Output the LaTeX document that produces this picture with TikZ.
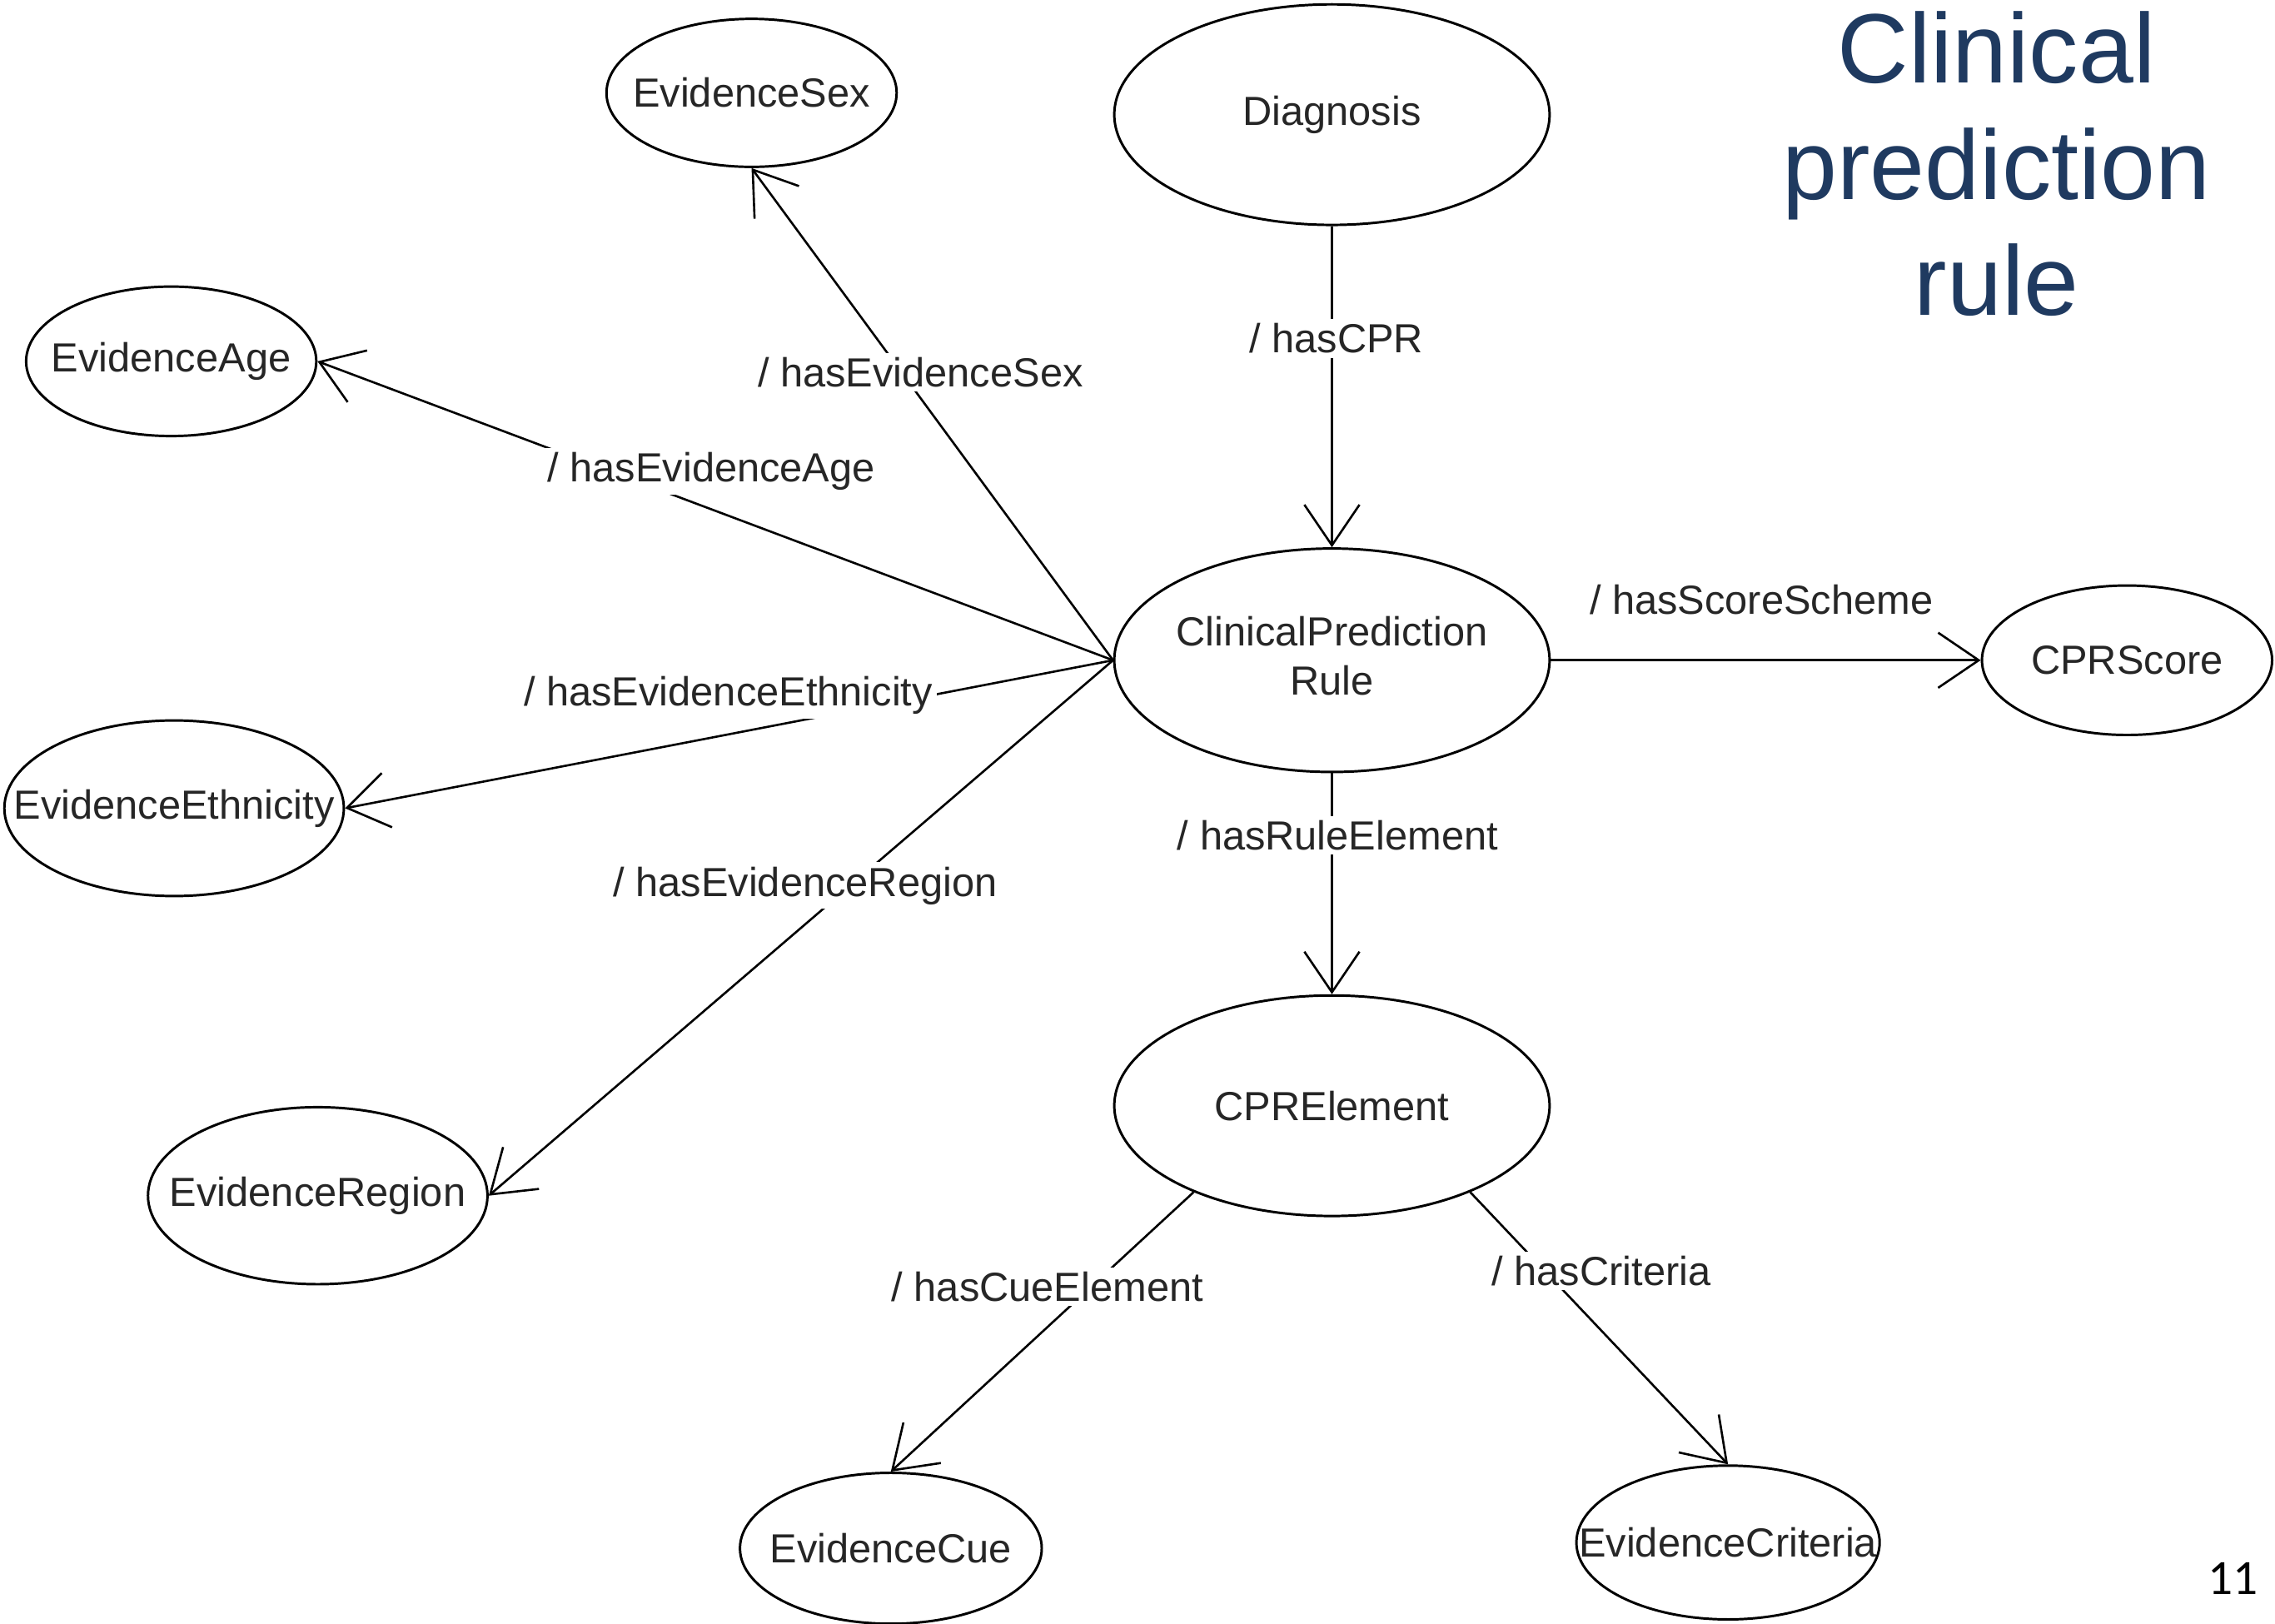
\documentclass[tikz,border=0pt]{standalone}
\usepackage{fontspec}
\setmainfont{Liberation Sans}
\newfontfamily\carlito{Carlito}
\usetikzlibrary{shapes.geometric,arrows.meta}
\definecolor{titleblue}{HTML}{1F3A60}
\definecolor{txtgray}{HTML}{262626}
\newcommand{\nt}[1]{\makebox[0pt][c]{#1}}
\tikzset{
  ell/.style={draw, ellipse, line width=1.7pt, inner sep=0pt, text=txtgray,
    font=\fontsize{28}{34}\selectfont},
  conn/.style={line width=1.5pt, -{Straight Barb[length=28pt,width=38pt,line width=1.5pt]}},
  lbl/.style={fill=white, inner sep=3pt, text=txtgray, font=\fontsize{28}{34}\selectfont},
}
\begin{document}
\begin{tikzpicture}[x=1pt,y=-1pt]
\useasboundingbox (0,0) rectangle (1568,1119);
% nodes
\node[ell, minimum width=200pt, minimum height=102pt] (sex)   at (518,64)   {\nt{EvidenceSex}};
\node[ell, minimum width=300pt, minimum height=152pt] (diag)  at (918,79)   {\nt{Diagnosis}};
\node[ell, minimum width=200pt, minimum height=103pt] (age)   at (118,249)  {\nt{EvidenceAge}};
\node[ell, minimum width=300pt, minimum height=154pt] (cpr)   at (918,455)
  {\nt{\begin{tabular}{@{}c@{}}ClinicalPrediction\\Rule\end{tabular}}};
\node[ell, minimum width=200pt, minimum height=103pt] (score) at (1466,455) {\nt{CPRScore}};
\node[ell, minimum width=234pt, minimum height=121pt] (eth)   at (120,557)  {\nt{EvidenceEthnicity}};
\node[ell, minimum width=234pt, minimum height=122pt] (reg)   at (219,824)  {\nt{EvidenceRegion}};
\node[ell, minimum width=300pt, minimum height=152pt] (cpre)  at (918,762)  {\nt{CPRElement}};
\node[ell, minimum width=208pt, minimum height=104pt] (cue)   at (614,1067) {\nt{EvidenceCue}};
\node[ell, minimum width=209pt, minimum height=106pt] (crit)  at (1191,1063){\nt{EvidenceCriteria}};
% title and page number
\node[text=titleblue, align=center, font=\fontsize{68}{80}\selectfont] (title) at (1376,113)
  {Clinical\\prediction\\rule};
\node[font=\carlito\fontsize{34}{40}\selectfont] (pagenum) at (1539,1088) {11};
% connectors
\draw[conn] (diag.south) -- node[lbl, pos=0.35, xshift=3pt] {/ hasCPR} (cpr.north);
\draw[conn] (cpr.west) -- node[lbl, pos=0.585, xshift=13pt] {/ hasEvidenceSex} (sex.south);
\draw[conn] (cpr.west) -- node[lbl, pos=0.505, yshift=26pt] {/ hasEvidenceAge} (age.east);
\draw[conn] (cpr.west) -- node[lbl, pos=0.501, yshift=27pt] {/ hasEvidenceEthnicity} (eth.east);
\draw[conn] (cpr.west) -- node[lbl, pos=0.421, xshift=-31pt] {/ hasEvidenceRegion} (reg.east);
\draw[conn] (cpr.east) -- node[lbl, pos=0.49, yshift=42pt] {/ hasScoreScheme} (score.west);
\draw[conn] (cpr.south) -- node[lbl, pos=0.28, xshift=4pt] {/ hasRuleElement} (cpre.north);
\draw[conn] (cpre.212) -- node[lbl, pos=0.339, xshift=-30pt] {/ hasCueElement} (cue.north);
\draw[conn] (cpre.-32) -- node[lbl, pos=0.289, xshift=39pt] {/ hasCriteria} (crit.north);
\end{tikzpicture}
\end{document}
